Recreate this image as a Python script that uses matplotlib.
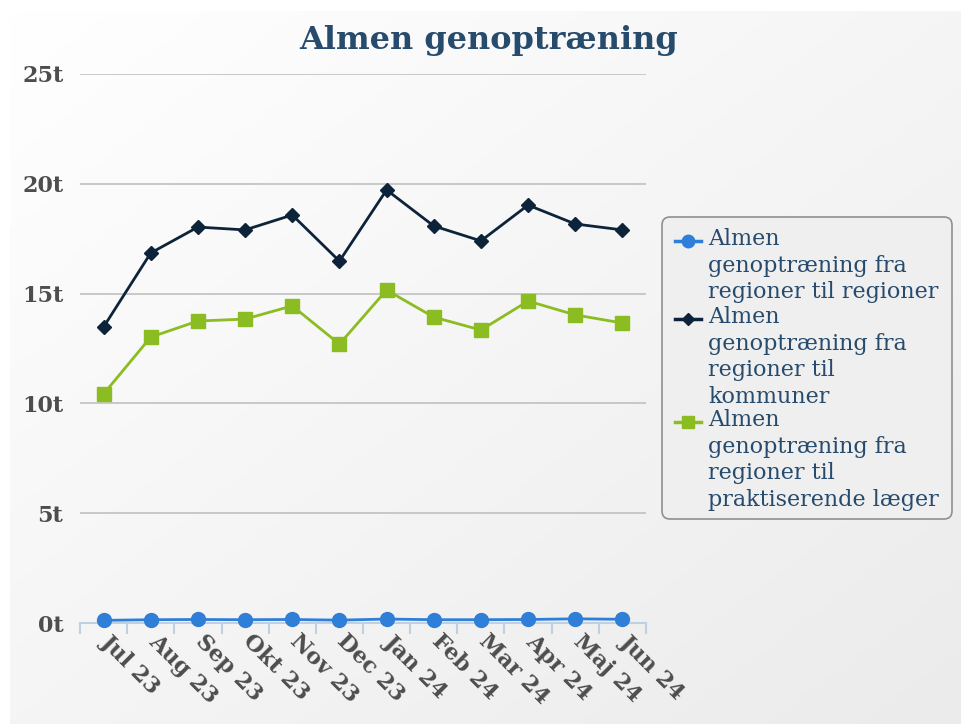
import numpy as np
import matplotlib
matplotlib.use('Agg')
import matplotlib.pyplot as plt
import matplotlib.transforms as mtrans
from matplotlib.patches import FancyBboxPatch
from matplotlib.lines import Line2D

# Data (thousands)
months = ['Jul 23', 'Aug 23', 'Sep 23', 'Okt 23', 'Nov 23', 'Dec 23',
          'Jan 24', 'Feb 24', 'Mar 24', 'Apr 24', 'Maj 24', 'Jun 24']
regioner = [0.12, 0.15, 0.16, 0.15, 0.16, 0.13, 0.18, 0.15, 0.15, 0.16, 0.19, 0.17]
kommuner = [13.48, 16.85, 18.03, 17.9, 18.58, 16.48, 19.72, 18.08, 17.4, 19.03, 18.17, 17.9]
laeger = [10.43, 13.02, 13.75, 13.84, 14.44, 12.7, 15.16, 13.93, 13.34, 14.66, 14.03, 13.66]
y_ticks = [0, 5, 10, 15, 20, 25]

names = ['Almen\ngenoptræning fra\nregioner til regioner',
         'Almen\ngenoptræning fra\nregioner til\nkommuner',
         'Almen\ngenoptræning fra\nregioner til\npraktiserende læger']

blue = '#2f7ed8'
dark = '#0d233a'
green = '#8bbc21'
title_col = '#274b6d'
label_col = '#4d4d4d'

plt.rcParams['font.family'] = ['DejaVu Serif']

fig = plt.figure(figsize=(9.61, 7.24), dpi=100)

# background gradient with rounded frame (pixel coordinates)
bg = fig.add_axes([0, 0, 1, 1])
bg.set_xlim(0, 961)
bg.set_ylim(724, 0)
bg.axis('off')
gx, gy = np.meshgrid(np.linspace(0, 1, 200), np.linspace(0, 1, 200))
grad = (gx + gy) / 2
img = bg.imshow(grad, cmap=matplotlib.colors.LinearSegmentedColormap.from_list(
    'g', ['#ffffff', '#ebebeb']), extent=(10, 961, 724, 11), aspect='auto', zorder=0)
frame = FancyBboxPatch((10, 11), 990, 760, boxstyle='round,pad=0,rounding_size=6',
                       transform=bg.transData, facecolor='none', edgecolor='none')
bg.add_patch(frame)
img.set_clip_path(frame)

ax = fig.add_axes([80 / 961, 1 - 623 / 724, 566 / 961, 549 / 724])
ax.patch.set_alpha(0)
x = np.arange(len(months))

ax.plot(x, regioner, color=blue, lw=2, marker='o', ms=10, zorder=5, clip_on=False)
ax.plot(x, kommuner, color=dark, lw=2, marker='D', ms=7, zorder=5, clip_on=False)
ax.plot(x, laeger, color=green, lw=2, marker='s', ms=10, zorder=5, clip_on=False)

ax.set_xlim(-0.5, len(months) - 0.5)
ax.set_ylim(0, 25)
for v in y_ticks[1:]:
    ax.axhline(v, color='#c0c0c0', lw=1.2, zorder=1)

for s in ['top', 'right', 'left']:
    ax.spines[s].set_visible(False)
ax.spines['bottom'].set_color('#c0d0e0')
ax.spines['bottom'].set_linewidth(1.5)

ax.set_yticks(y_ticks)
ax.set_yticklabels([f'{v}t' for v in y_ticks], fontsize=16, fontweight='bold', color=label_col)
ax.tick_params(axis='y', length=0, pad=12)

ax.set_xticks(np.arange(-0.5, len(months), 1.0))
ax.set_xticklabels([])
ax.tick_params(axis='x', length=8, width=1.5, color='#c0d0e0', direction='out')
ax.set_xticks(x, minor=True)
ax.set_xticklabels(months, minor=True, rotation=-45, ha='left', va='top',
                   rotation_mode='anchor', fontsize=16, fontweight='bold', color=label_col)
ax.tick_params(axis='x', which='minor', length=0, pad=5)
shift = mtrans.ScaledTranslation(9 / 100, 0, fig.dpi_scale_trans)
for lbl in ax.get_xticklabels(minor=True):
    lbl.set_transform(lbl.get_transform() + shift)

fig.text(489 / 961, 1 - 40 / 724, 'Almen genoptræning', ha='center', va='center',
         fontsize=23, fontweight='bold', color=title_col)

# legend drawn by hand so the markers sit on the first text line
box = FancyBboxPatch((662, 217), 290, 302, boxstyle='round,pad=0,rounding_size=8',
                     transform=bg.transData, facecolor='#efefef', edgecolor='#909090',
                     lw=1.2, zorder=2)
bg.add_patch(box)
leg_y = [241, 319, 422]
styles = [(blue, 'o', 9), (dark, 'D', 6), (green, 's', 9)]
for name, y0, (c, m, s) in zip(names, leg_y, styles):
    bg.add_line(Line2D([675, 701], [y0, y0], color=c, lw=2.5, zorder=3))
    bg.plot([688], [y0], marker=m, ms=s, color=c, zorder=4)
    bg.text(708, y0 - 13, name, ha='left', va='top', fontsize=16, color=title_col,
            linespacing=1.27, zorder=4)

fig.savefig('out.png', dpi=100)
